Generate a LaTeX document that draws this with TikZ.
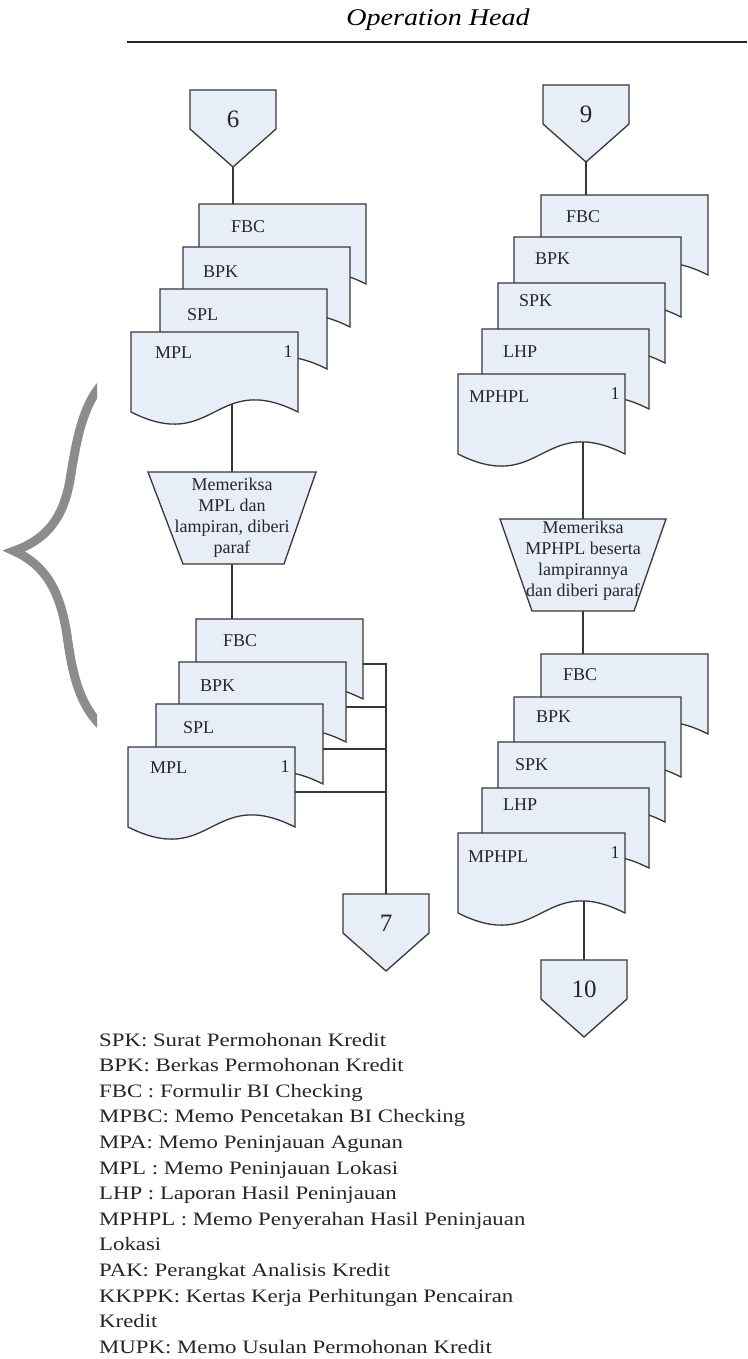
\documentclass[tikz,border=0pt]{standalone}
\usepackage{fontspec}
\setmainfont{Liberation Serif}
\newfontfamily\legendfont[FakeStretch=1.2]{Liberation Serif}
\newfontfamily\titlefont[FakeStretch=1.17]{Liberation Serif}
\pgfdeclarelayer{bg}
\pgfsetlayers{bg,main}
\definecolor{docfill}{RGB}{232,238,247}
\definecolor{edge}{RGB}{55,55,55}
\definecolor{bracegray}{RGB}{140,140,140}
\tikzset{
  docshape/.style={draw=edge, fill=docfill, line width=1.3pt, line join=miter},
  doctext/.style={font=\fontsize{18}{21}\selectfont, inner sep=0pt, text=black!85},
  link/.style={draw=edge, line width=1.4pt},
  legend/.style={font=\legendfont\fontsize{19}{25.8}\selectfont, inner sep=0pt, anchor=base west, text=black!85},
  pics/doc/.style n args={4}{code={
    \path[docshape] (0,0) -- (167,0) -- (167,80) .. controls (83.5,38) and (83.5,122) .. (0,80) -- cycle;
    \node[doctext, anchor=west] (-lbl) at (#2,#3) {#1};
    \node[doctext] (-num) at (157,20) {#4};
    \coordinate (-top) at (0,0);
    \coordinate (-r) at (167,45);
  }},
  pics/offpage/.style={code={
    \path[docshape] (-43,0) -- (43,0) -- (43,39) -- (0,77) -- (-43,39) -- cycle;
    \node[font=\fontsize{25}{27}\selectfont, inner sep=0pt, text=black!85] (-lbl) at (0,29) {#1};
    \coordinate (-top) at (0,0);
    \coordinate (-tip) at (0,77);
  }},
}
\begin{document}
\begin{tikzpicture}[x=1pt, y=-1pt]
\path[use as bounding box] (0,0) rectangle (747,1359);

% title and rule
\node[font=\titlefont\itshape\fontsize{24}{26}\selectfont, inner sep=0pt] (title) at (438,20) {Operation Head};
\coordinate (rl) at (127,42);
\coordinate (rr) at (747,42);
\draw[line width=2pt, black!85] (rl) -- (rr);

% brace
\begin{scope}
\clip (0,360) rectangle (97,760);
\draw[bracegray, line width=9pt, line join=miter] (118,370) .. controls (85,392) and (78,430) .. (70,480) .. controls (63,520) and (45,540) .. (14,551) .. controls (45,565) and (60,590) .. (67,635) .. controls (73,680) and (82,718) .. (118,738);
\end{scope}

% left column
\pic (c6) at (233,90) {offpage=6};
\pic (a1) at (199,204) {doc={FBC}{32}{23}{}};
\pic (a2) at (183,247) {doc={BPK}{20}{25}{}};
\pic (a3) at (160,289) {doc={SPL}{27}{26}{}};
\pic (a4) at (131,332) {doc={MPL}{24}{21}{1}};

\path[docshape] (148,472) -- (316,472) -- (284,564) -- (183,564) -- cycle;
\coordinate (p1top) at (232,472);
\coordinate (p1bot) at (232,564);
\node[doctext, align=center] (p1) at (232,518) {Memeriksa\\MPL dan\\lampiran, diberi\\paraf};

\pic (b1) at (196,619) {doc={FBC}{27}{22}{}};
\pic (b2) at (179,662) {doc={BPK}{21}{24}{}};
\pic (b3) at (156,704) {doc={SPL}{27}{24}{}};
\pic (b4) at (128,747) {doc={MPL}{22}{21}{1}};

\pic (c7) at (386,894) {offpage=7};

% right column
\pic (c9) at (586,85) {offpage=9};
\pic (r1) at (541,195) {doc={FBC}{25}{22}{}};
\pic (r2) at (514,237) {doc={BPK}{21}{22}{}};
\pic (r3) at (498,283) {doc={SPK}{21}{18}{}};
\pic (r4) at (482,329) {doc={LHP}{21}{23}{}};
\pic (r5) at (458,374) {doc={MPHPL}{11}{23}{1}};

\path[docshape] (500,519) -- (666,519) -- (634,611) -- (532,611) -- cycle;
\coordinate (q1top) at (583,519);
\coordinate (q1bot) at (583,611);
\node[doctext, align=center] (q1) at (583,561) {Memeriksa\\MPHPL beserta\\lampirannya\\dan diberi paraf};

\pic (s1) at (541,654) {doc={FBC}{22}{21}{}};
\pic (s2) at (514,697) {doc={BPK}{22}{20}{}};
\pic (s3) at (498,742) {doc={SPK}{17}{23}{}};
\pic (s4) at (482,788) {doc={LHP}{21}{17}{}};
\pic (s5) at (458,833) {doc={MPHPL}{10}{24}{1}};

\pic (c10) at (584,960) {offpage=10};

% background and connectors
\begin{pgfonlayer}{bg}
\fill[white] (0,0) rectangle (747,1359);
\draw[link] (c6-tip) -- (c6-tip |- a1-top);
\draw[link] (p1top) -- (p1top |- a4-top);
\draw[link] (p1bot) -- (p1bot |- b1-top);
\draw[link] (b1-r) -- (b1-r -| c7-top) -- (c7-top);
\draw[link] (b2-r) -- (b2-r -| c7-top);
\draw[link] (b3-r) -- (b3-r -| c7-top);
\draw[link] (b4-r) -- (b4-r -| c7-top);
\draw[link] (c9-tip) -- (c9-tip |- r1-top);
\draw[link] (q1top) -- (q1top |- r5-top);
\draw[link] (q1bot) -- (q1bot |- s1-top);
\draw[link] (c10-top) -- (c10-top |- s5-top);
\end{pgfonlayer}

% legend
\foreach \t [count=\i] in {
  SPK: Surat Permohonan Kredit,
  BPK: Berkas Permohonan Kredit,
  FBC : Formulir BI Checking,
  MPBC: Memo Pencetakan BI Checking,
  MPA: Memo Peninjauan Agunan,
  MPL : Memo Peninjauan Lokasi,
  LHP : Laporan Hasil Peninjauan,
  MPHPL : Memo Penyerahan Hasil Peninjauan,
  Lokasi,
  PAK: Perangkat Analisis Kredit,
  KKPPK: Kertas Kerja Perhitungan Pencairan,
  Kredit,
  MUPK: Memo Usulan Permohonan Kredit}
  \node[legend] (lg\i) at (99,{1046+25.6*(\i-1)}) {\t};
\end{tikzpicture}
\end{document}
